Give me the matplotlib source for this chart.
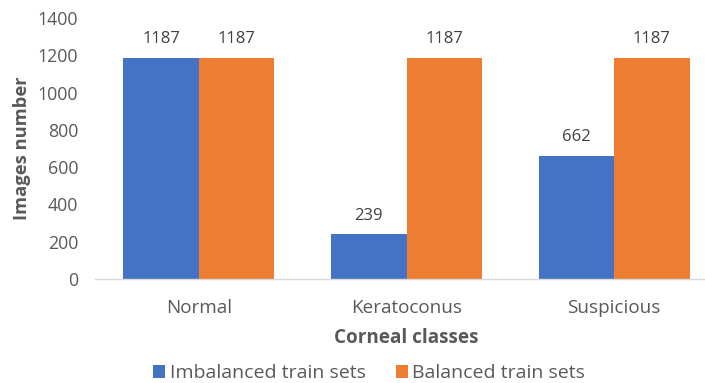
import matplotlib
matplotlib.use("Agg")
import matplotlib.pyplot as plt
import numpy as np

categories = ["Normal", "Keratoconus", "Suspicious"]
imbalanced = [1187, 239, 662]
balanced = [1187, 1187, 1187]
series_names = ["Imbalanced train sets", "Balanced train sets"]
y_ticks = [0, 200, 400, 600, 800, 1000, 1200, 1400]

plt.rcParams["font.family"] = ["Open Sans", "DejaVu Sans"]

W, H = 705, 383
fig = plt.figure(figsize=(W / 100, H / 100), dpi=100)
ax = fig.add_axes([95 / W, (H - 279) / H, (718 - 95) / W, 261 / H])

x = np.arange(len(categories))
w = 0.364
blue = "#4472C4"
orange = "#ED7D31"
text_col = "#595959"

b1 = ax.bar(x - w / 2, imbalanced, w, color=blue, label=series_names[0])
b2 = ax.bar(x + w / 2, balanced, w, color=orange, label=series_names[1])

for bars, vals in ((b1, imbalanced), (b2, balanced)):
    for rect, v in zip(bars, vals):
        ax.annotate(str(v), (rect.get_x() + rect.get_width() / 2, v),
                    xytext=(0, 13.5), textcoords="offset points",
                    ha="center", va="center", fontsize=12, color="#404040")

ax.set_xlim(-0.5, len(categories) - 0.5)
ax.set_ylim(0, 1400)
ax.set_yticks(y_ticks)
ax.set_xticks(x)
ax.set_xticklabels(categories, fontsize=13.6)
ax.tick_params(axis="both", length=0, colors=text_col)
ax.tick_params(axis="y", pad=12, labelsize=12.8)
ax.tick_params(axis="x", pad=14.5)

for s in ("top", "right", "left"):
    ax.spines[s].set_visible(False)
ax.spines["bottom"].set_color("#D9D9D9")
ax.spines["bottom"].set_linewidth(1.0)

ax.set_ylabel("Images number", fontsize=13.2, fontweight="bold", color=text_col, labelpad=5)
ax.set_xlabel("Corneal classes", fontsize=13.6, fontweight="bold", color=text_col, labelpad=8)

fig.legend(handles=[b1, b2], labels=series_names, loc="center",
           bbox_to_anchor=(369 / W, 1 - 373.5 / H), ncol=2, frameon=False,
           fontsize=14, labelcolor=text_col, handlelength=0.62, handleheight=0.62,
           handletextpad=0.25, columnspacing=1.55, borderpad=0)

fig.savefig("out.png", dpi=100)
